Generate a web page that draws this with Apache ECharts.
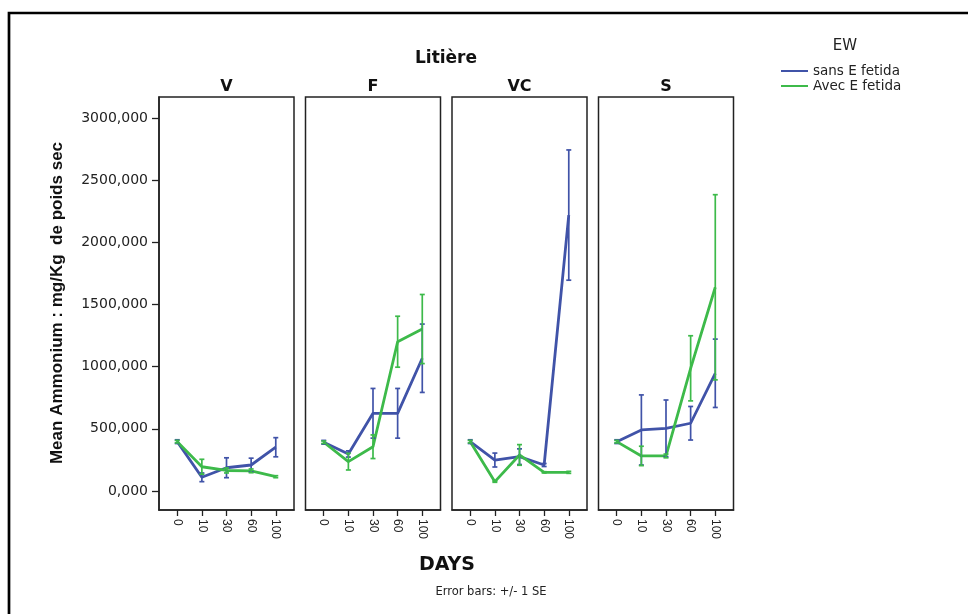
<!DOCTYPE html>
<html>
<head>
<meta charset="utf-8">
<script src="https://cdn.jsdelivr.net/npm/echarts@6/dist/echarts.min.js"></script>
<style>
html,body{margin:0;padding:0;background:#fff;}
#chart{width:968px;height:614px;}
</style>
</head>
<body>
<div id="chart"></div>
<script>
// ---- data ----
const days = ['0', '10', '30', '60', '100'];
const panels = ['V', 'F', 'VC', 'S'];
const groups = ['sans E fetida', 'Avec E fetida'];
const yTickValues = [0, 500, 1000, 1500, 2000, 2500, 3000];

// means (mg/Kg) per panel, sans E fetida
const sansV  = [397, 110, 187, 209, 352];
const sansF  = [392, 298, 625, 625, 1068];
const sansVC = [397, 249, 276, 209, 2220];
const sansS  = [397, 491, 504, 545, 947];
// standard errors, sans E fetida
const sansV_se  = [15, 35, 80, 55, 77];
const sansF_se  = [15, 25, 200, 200, 275];
const sansVC_se = [15, 56, 63, 12, 524];
const sansS_se  = [15, 282, 228, 135, 275];

// means, Avec E fetida
const avecV  = [397, 195, 165, 162, 115];
const avecF  = [392, 236, 356, 1201, 1303];
const avecVC = [397, 75, 290, 150, 150];
const avecS  = [397, 282, 282, 987, 1639];
// standard errors, Avec E fetida
const avecV_se  = [10, 60, 20, 15, 8];
const avecF_se  = [10, 67, 95, 205, 278];
const avecVC_se = [10, 5, 83, 5, 8];
const avecS_se  = [10, 78, 15, 262, 745];

const sansMeans = [sansV, sansF, sansVC, sansS];
const sansSE = [sansV_se, sansF_se, sansVC_se, sansS_se];
const avecMeans = [avecV, avecF, avecVC, avecS];
const avecSE = [avecV_se, avecF_se, avecVC_se, avecS_se];

// ---- layout ----
const colors = ['#4053a8', '#3dba4a'];
const panelLeft = [159, 305.5, 452, 598.5];
const panelWidth = 135;
const panelTop = 97;
const panelHeight = 413;
const frameColor = '#222';

const chart = echarts.init(document.getElementById('chart'), null, {renderer: 'canvas'});

const grids = [], xAxes = [], yAxes = [], series = [];
panels.forEach((p, k) => {
  grids.push({left: panelLeft[k], top: panelTop, width: panelWidth, height: panelHeight,
    show: true, borderColor: frameColor, borderWidth: 1.5, backgroundColor: 'transparent', containLabel: false});
  xAxes.push({
    type: 'value', gridIndex: k, min: -0.74, max: 4.74,
    axisLine: {show: true, onZero: false, lineStyle: {color: frameColor, width: 1.5}},
    axisTick: {show: true, length: 6, customValues: [0, 1, 2, 3, 4], lineStyle: {color: frameColor, width: 1.3}},
    axisLabel: {show: true, customValues: [0, 1, 2, 3, 4], rotate: -90, margin: 9,
      formatter: v => days[Math.round(v)], fontFamily: 'Liberation Sans', fontSize: 12, color: '#222'},
    splitLine: {show: false}
  });
  yAxes.push({
    type: 'value', gridIndex: k, min: -153, max: 3170,
    axisLine: {show: k === 0, onZero: false, lineStyle: {color: frameColor, width: 1.5}},
    axisTick: {show: k === 0, length: 7, customValues: yTickValues, lineStyle: {color: frameColor, width: 1.3}},
    axisLabel: {show: k === 0, customValues: yTickValues, margin: 11,
      formatter: v => v.toFixed(3).replace('.', ','), fontFamily: 'DejaVu Sans', fontSize: 14, color: '#222'},
    splitLine: {show: false}
  });
  [[sansMeans, sansSE], [avecMeans, avecSE]].forEach(([means, ses], g) => {
    series.push({
      name: groups[g], type: 'line', xAxisIndex: k, yAxisIndex: k,
      data: days.map((d, i) => [i, means[k][i]]),
      symbol: 'none', lineStyle: {color: colors[g], width: 2.8}, itemStyle: {color: colors[g]},
      z: 3, silent: true, animation: false
    });
    series.push({
      name: 'err_' + groups[g] + '_' + k, type: 'custom', xAxisIndex: k, yAxisIndex: k,
      data: days.map((d, i) => [i, means[k][i] - ses[k][i], means[k][i] + ses[k][i]]),
      encode: {x: 0, y: [1, 2]}, z: 4, silent: true, animation: false,
      renderItem: function (params, api) {
        const x = api.value(0);
        const a = api.coord([x, api.value(1)]);
        const b = api.coord([x, api.value(2)]);
        const hw = 2.5;
        const st = {stroke: colors[g], lineWidth: 1.7, fill: null};
        return {type: 'group', children: [
          {type: 'line', shape: {x1: a[0], y1: a[1], x2: b[0], y2: b[1]}, style: st},
          {type: 'line', shape: {x1: a[0] - hw, y1: a[1], x2: a[0] + hw, y2: a[1]}, style: st},
          {type: 'line', shape: {x1: b[0] - hw, y1: b[1], x2: b[0] + hw, y2: b[1]}, style: st}
        ]};
      }
    });
  });
});

const graphics = [
  {type: 'rect', shape: {x: 9, y: 13, width: 990, height: 640}, style: {fill: null, stroke: '#000', lineWidth: 2.7}, silent: true},
  {type: 'text', x: 446, y: 59, style: {text: 'Litière', font: 'bold 17px "DejaVu Sans"', fill: '#111', align: 'center', verticalAlign: 'middle'}},
  {type: 'text', x: 447, y: 565, style: {text: 'DAYS', font: 'bold 19px "DejaVu Sans"', fill: '#111', align: 'center', verticalAlign: 'middle'}},
  {type: 'text', x: 491, y: 592, style: {text: 'Error bars: +/- 1 SE', font: '11.5px "DejaVu Sans"', fill: '#222', align: 'center', verticalAlign: 'middle'}},
  {type: 'text', x: 845, y: 46, style: {text: 'EW', font: '15px "DejaVu Sans"', fill: '#222', align: 'center', verticalAlign: 'middle'}},
  {type: 'text', x: 57, y: 303, rotation: Math.PI / 2,
    style: {text: 'Mean Ammonium : mg/Kg  de poids sec', font: 'bold 17px "Liberation Sans"', fill: '#111', align: 'center', verticalAlign: 'middle'}}
];
panels.forEach((p, k) => {
  graphics.push({type: 'text', x: panelLeft[k] + panelWidth / 2, y: 87,
    style: {text: p, font: 'bold 16px "DejaVu Sans"', fill: '#111', align: 'center', verticalAlign: 'middle'}});
});

chart.setOption({
  animation: false,
  backgroundColor: '#fff',
  grid: grids,
  xAxis: xAxes,
  yAxis: yAxes,
  legend: {
    data: groups, orient: 'vertical', left: 776, top: 59, itemWidth: 27, itemHeight: 14, itemGap: 1,
    icon: 'path://M0,6L27,6L27,8L0,8Z',
    textStyle: {fontFamily: 'DejaVu Sans', fontSize: 13.5, color: '#222', lineHeight: 14, padding: 0},
    selectedMode: false
  },
  graphic: graphics,
  series: series
});
</script>
</body>
</html>
